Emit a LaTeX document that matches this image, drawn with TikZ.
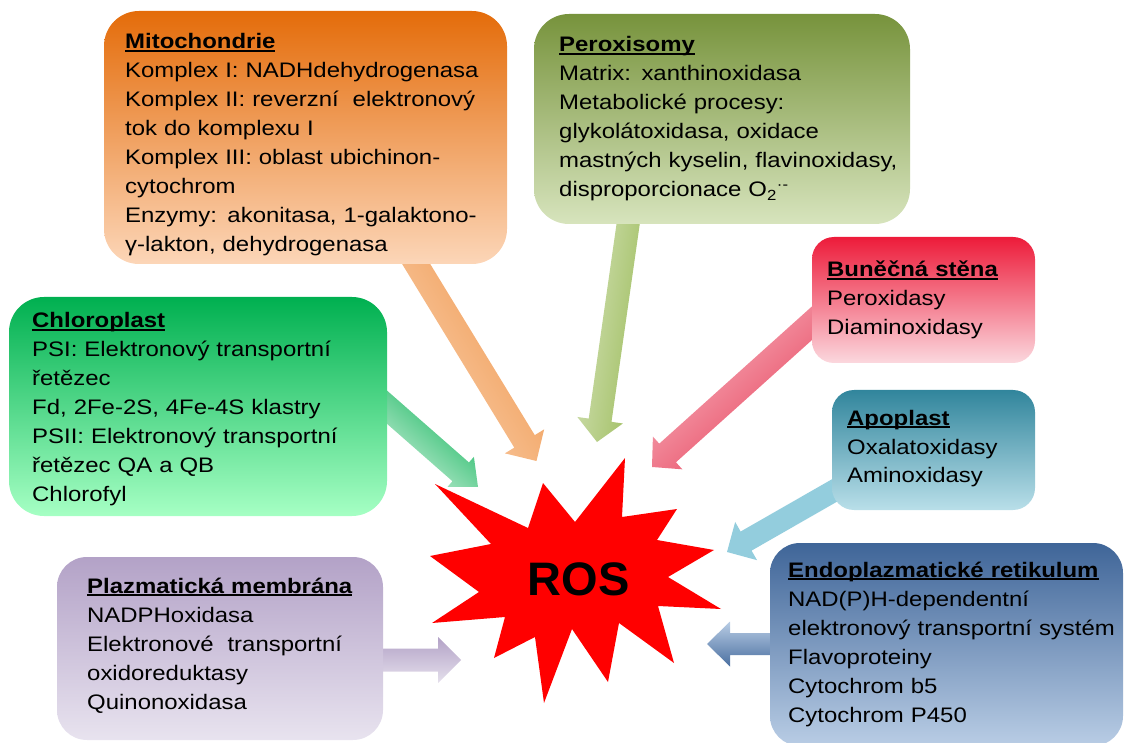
\documentclass[tikz,border=0pt]{standalone}
\usepackage{fontspec}
\setmainfont{Liberation Sans}[FakeStretch=1.14]
\newfontfamily\rosfont{Liberation Sans}
\usetikzlibrary{calc}

\definecolor{mitoT}{HTML}{E46C0A}
\definecolor{mitoB}{HTML}{FCD6B8}
\definecolor{perT}{HTML}{77933C}
\definecolor{perB}{HTML}{D7E4BD}
\definecolor{chlT}{HTML}{00B050}
\definecolor{chlM}{HTML}{1EFA7C}
\definecolor{chlB}{HTML}{A6FFC4}
\definecolor{bunT}{HTML}{ED1B3A}
\definecolor{bunB}{HTML}{FBD8DE}
\definecolor{apoT}{HTML}{31859C}
\definecolor{apoM}{HTML}{93CDDD}
\definecolor{apoB}{HTML}{B9DFE9}
\definecolor{plaT}{HTML}{B3A2C7}
\definecolor{plaB}{HTML}{E8E3EF}
\definecolor{erT}{HTML}{3F6598}
\definecolor{erB}{HTML}{B9CDE5}
\definecolor{arrOrD}{HTML}{EE9448}
\definecolor{arrOrL}{HTML}{FBD3B2}
\definecolor{arrOlD}{HTML}{9BBB59}
\definecolor{arrOlL}{HTML}{D7E4BD}
\definecolor{arrRdD}{HTML}{E63550}
\definecolor{arrRdL}{HTML}{F8C0CA}
\definecolor{arrGnD}{HTML}{00B050}
\definecolor{arrGnL}{HTML}{E6F7EC}
\definecolor{arrAp}{HTML}{93CDDD}
\definecolor{arrPlD}{HTML}{B3A2C7}
\definecolor{arrPlL}{HTML}{E5E0EC}
\definecolor{arrErD}{HTML}{4A6FA0}
\definecolor{arrErL}{HTML}{B9CDE5}

% #1 tail, #2 tip, #3 shaft half width, #4 head half width, #5 head length, #6 style
\newcommand\blockarr[6]{%
  \coordinate (hb-#1) at ($(#2)!#5!(#1)$);
  \path[#6] ($(#1)!#3!90:(#2)$) -- ($(hb-#1)!#3!90:(#2)$) -- ($(hb-#1)!#4!90:(#2)$)
    -- (#2) -- ($(hb-#1)!#4!-90:(#2)$) -- ($(hb-#1)!#3!-90:(#2)$)
    -- ($(#1)!#3!-90:(#2)$) -- cycle;}

\newcommand\boxtitle[1]{\setbox0\hbox{\bfseries #1}\rlap{\rule[-3pt]{\wd0}{1.6pt}}\box0}

\begin{document}
\begin{tikzpicture}[x=1pt,y=-1pt,
  cbox/.style={rectangle, draw=none, inner sep=0pt, rounded corners=#1},
  cbox/.default=32pt,
  txt/.style={anchor=base west, align=left, inner sep=0pt, text width=420pt,
    font=\fontsize{21}{29}\selectfont}]
\useasboundingbox (0,0) rectangle (1128,743);

% arrow end points
\coordinate (tMito) at (396,231);  \coordinate (pMito) at (536.5,461);
\coordinate (tPer)  at (633,190);  \coordinate (pPer)  at (597,442);
\coordinate (tBun)  at (840,298);  \coordinate (pBun)  at (652,467);
\coordinate (tChl)  at (356,380);  \coordinate (pChl)  at (478,487);
\coordinate (tApo)  at (858,477);  \coordinate (pApo)  at (727,552);
\coordinate (tPla)  at (370,660);  \coordinate (pPla)  at (461,660);
\coordinate (tEr)   at (790,644);  \coordinate (pEr)   at (707,644);

% arrows
\blockarr{tMito}{pMito}{12pt}{23pt}{23pt}{top color=arrOrD, bottom color=arrOrL, shading angle=-58.5}
\blockarr{tPer}{pPer}{11.5pt}{23pt}{22pt}{top color=arrOlD, bottom color=arrOlL, shading angle=-98}
\blockarr{tBun}{pBun}{12.5pt}{22pt}{21pt}{top color=arrRdD, bottom color=arrRdL, shading angle=-138}
\blockarr{tChl}{pChl}{12.5pt}{20pt}{23pt}{top color=arrGnD, bottom color=arrGnL, shading angle=-41}
\blockarr{tApo}{pApo}{11pt}{22pt}{22pt}{fill=arrAp}
\blockarr{tPla}{pPla}{11.5pt}{23pt}{23pt}{top color=arrPlD, bottom color=arrPlL}
\blockarr{tEr}{pEr}{11pt}{22.5pt}{23pt}{top color=arrErL, bottom color=arrErD}

% boxes
\node[cbox=35pt, minimum width=403pt, minimum height=253pt, top color=mitoT, bottom color=mitoB] (mito) at (305.5,137.5) {};
\node[cbox=35pt, minimum width=376pt, minimum height=210pt, top color=perT, bottom color=perB] (per) at (722,119) {};
\node[cbox=35pt, minimum width=378pt, minimum height=219pt, top color=chlT, middle color=chlM, bottom color=chlB] (chl) at (198,406.5) {};
\node[cbox=22pt, minimum width=223pt, minimum height=126pt, top color=bunT, bottom color=bunB] (bun) at (923.5,300) {};
\node[cbox=22pt, minimum width=203pt, minimum height=120pt, top color=apoT, middle color=apoM, bottom color=apoB] (apo) at (933.5,450) {};
\node[cbox=30pt, minimum width=326pt, minimum height=183pt, top color=plaT, bottom color=plaB] (pla) at (220,648.5) {};
\node[cbox=30pt, minimum width=353pt, minimum height=203pt, top color=erT, bottom color=erB] (er) at (946.5,644.5) {};

% texts
\node[txt] (mitotxt) at (125,49) {\boxtitle{Mitochondrie}\\
Komplex I: NADHdehydrogenasa\\
Komplex II: reverzní\ \ elektronový\\
tok do komplexu I\\
Komplex III: oblast ubichinon-\\
cytochrom\\
Enzymy: akonitasa, 1-galaktono-\\
γ-lakton, dehydrogenasa};

\node[txt] (pertxt) at (559,52) {\boxtitle{Peroxisomy}\\
Matrix: xanthinoxidasa\\
Metabolické procesy:\\
glykolátoxidasa, oxidace\\
mastných kyselin, flavinoxidasy,\\
disproporcionace O\textsubscript{2}\textsuperscript{·-}};

\node[txt] (chltxt) at (32,328) {\boxtitle{Chloroplast}\\
PSI: Elektronový transportní\\
řetězec\\
Fd, 2Fe-2S, 4Fe-4S klastry\\
PSII: Elektronový transportní\\
řetězec QA a QB\\
Chlorofyl};

\node[txt] (buntxt) at (827,277) {\boxtitle{Buněčná stěna}\\
Peroxidasy\\
Diaminoxidasy};

\node[txt] (apotxt) at (847,425) {\boxtitle{Apoplast}\\
Oxalatoxidasy\\
Aminoxidasy};

\node[txt] (platxt) at (87,593) {\boxtitle{Plazmatická membrána}\\
NADPHoxidasa\\
Elektronové\ \ transportní\\
oxidoreduktasy\\
Quinonoxidasa};

\node[txt] (ertxt) at (788,577) {\boxtitle{Endoplazmatické retikulum}\\
NAD(P)H-dependentní\\
elektronový transportní systém\\
Flavoproteiny\\
Cytochrom b5\\
Cytochrom P450};

% star
\path[fill=red] (435,484) -- (528,528) -- (543,483) -- (575,522) -- (625,458) -- (622,517)
  -- (677,509) -- (657,540) -- (714,550) -- (668,577) -- (721,609) -- (658,606)
  -- (674,663) -- (619,623) -- (608,682) -- (572,629) -- (544,703) -- (535,637)
  -- (494,658) -- (505,617) -- (432,623) -- (479,592) -- (430,556) -- (491,544) -- cycle;
\node[anchor=base, inner sep=0pt, font=\rosfont\bfseries\fontsize{47}{50}\selectfont] (ros) at (578.5,595) {ROS};
\end{tikzpicture}
\end{document}
